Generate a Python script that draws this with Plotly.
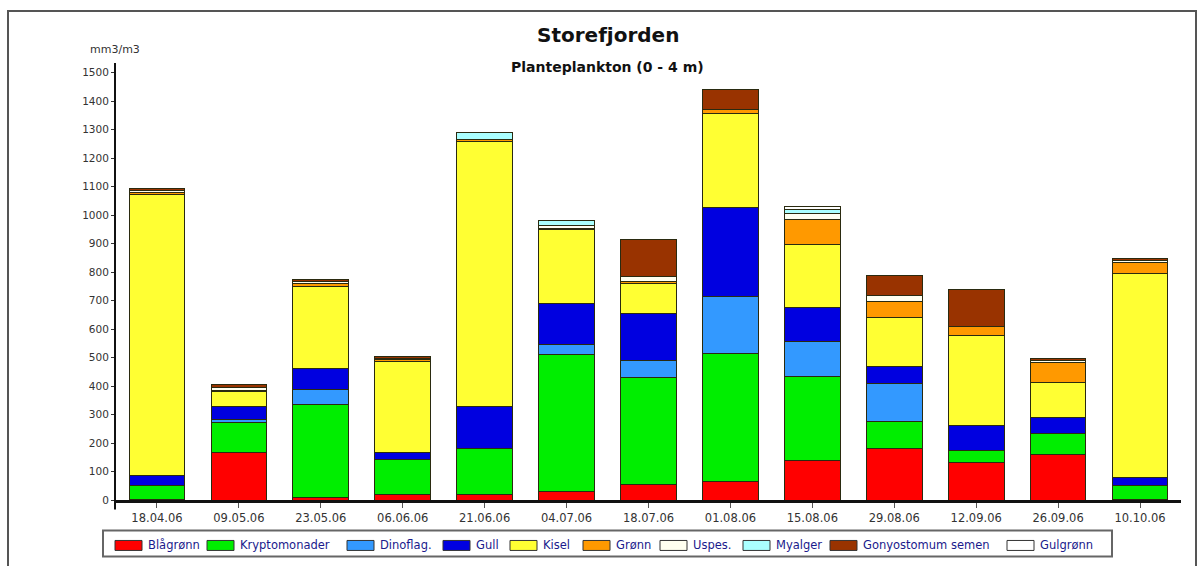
import plotly.graph_objects as go

# Sampling dates (x categories)
dates = ["18.04.06", "09.05.06", "23.05.06", "06.06.06", "21.06.06", "04.07.06",
         "18.07.06", "01.08.06", "15.08.06", "29.08.06", "12.09.06", "26.09.06", "10.10.06"]

# Biovolume per algal group, mm3/m3
blagronn = [2, 168, 8, 19, 19, 31, 54, 64, 138, 179, 133, 159, 3]
kryptomonader = [50, 105, 327, 123, 160, 481, 377, 449, 296, 97, 42, 76, 48]
dinoflag = [0, 8, 52, 0, 0, 33, 58, 201, 123, 132, 0, 0, 0]
gull = [33, 47, 73, 26, 148, 146, 164, 314, 119, 59, 86, 55, 27]
kisel = [988, 52, 290, 319, 931, 257, 106, 329, 220, 175, 316, 121, 718]
gronn = [5, 5, 9, 5, 6, 5, 8, 14, 87, 55, 32, 72, 38]
uspes = [8, 10, 8, 6, 0, 10, 17, 0, 24, 20, 0, 8, 8]
myalger = [0, 0, 0, 0, 25, 17, 0, 0, 12, 0, 0, 0, 0]
gonyostomum = [6, 10, 8, 6, 0, 0, 131, 68, 0, 70, 131, 7, 7]
gulgronn = [0, 0, 0, 0, 0, 0, 0, 0, 12, 0, 0, 0, 0]

y_ticks = list(range(0, 1501, 100))

series = [
    ("Blågrønn", blagronn, "#FF0000"),
    ("Kryptomonader", kryptomonader, "#00EE00"),
    ("Dinoflag.", dinoflag, "#3399FF"),
    ("Gull", gull, "#0000E0"),
    ("Kisel", kisel, "#FFFF33"),
    ("Grønn", gronn, "#FF9900"),
    ("Uspes.", uspes, "#FFFFF0"),
    ("Myalger", myalger, "#AAFFFF"),
    ("Gonyostomum semen", gonyostomum, "#993300"),
    ("Gulgrønn", gulgronn, "#FFFFFF"),
]

FONT = "DejaVu Sans, Arial, sans-serif"
W, H = 1202, 566
ML, MR, MT, MB = 116, 21, 64, 65.5
PW, PH = W - ML - MR, H - MT - MB


def px(x):
    """Pixel column -> paper x."""
    return (x - ML) / PW


def py(y):
    """Pixel row -> paper y."""
    return (H - MB - y) / PH


fig = go.Figure()
for name, vals, color in series:
    fig.add_trace(go.Bar(
        name=name, x=dates, y=vals,
        marker=dict(color=color, line=dict(color="#2a2a10", width=1)),
    ))

fig.update_layout(
    width=W, height=H,
    barmode="stack", bargap=0.32,
    plot_bgcolor="white", paper_bgcolor="white",
    margin=dict(l=ML, r=MR, t=MT, b=MB, autoexpand=False),
    font=dict(family=FONT, size=11, color="#333333"),
    showlegend=False,
    xaxis=dict(
        type="category", showline=True, linecolor="#111111", linewidth=3,
        ticks="outside", ticklen=5, tickwidth=1, tickcolor="#555555",
        showgrid=False, tickfont=dict(family=FONT, size=11.5, color="#333333"),
    ),
    yaxis=dict(
        range=[0, 1530], tickvals=y_ticks, showgrid=False, zeroline=False,
        showline=False, ticks="outside", ticklen=4, tickwidth=1, tickcolor="#333333",
        tickfont=dict(family=FONT, size=10.5, color="#333333"),
    ),
)

# Vertical axis line, drawn slightly past the zero line
fig.add_shape(type="line", xref="paper", yref="paper", x0=px(115), x1=px(115),
              y0=py(510), y1=py(63), line=dict(color="#111111", width=2))

# Outer frame around the chart
fig.add_shape(type="rect", xref="paper", yref="paper", x0=px(8), x1=px(1196),
              y0=py(575), y1=py(11), line=dict(color="#555555", width=2),
              fillcolor="rgba(0,0,0,0)", layer="below")

# Titles and unit label
fig.add_annotation(text="<b>Storefjorden</b>", xref="paper", yref="paper",
                   x=px(608), y=py(35), xanchor="center", yanchor="middle",
                   showarrow=False, font=dict(family=FONT, size=20, color="#111111"))
fig.add_annotation(text="<b>Planteplankton (0 - 4 m)</b>", xref="paper", yref="paper",
                   x=px(607), y=py(67), xanchor="center", yanchor="middle",
                   showarrow=False, font=dict(family=FONT, size=14, color="#111111"))
fig.add_annotation(text="mm3/m3", xref="paper", yref="paper",
                   x=px(115), y=py(49), xanchor="center", yanchor="middle",
                   showarrow=False, font=dict(family=FONT, size=11, color="#333333"))

# Legend box with one swatch + label per series
legend_left = [115, 207, 347, 443, 510, 583, 660, 743, 830, 1007]
fig.add_shape(type="rect", xref="paper", yref="paper", x0=px(103), x1=px(1112),
              y0=py(557), y1=py(531), line=dict(color="#666666", width=2),
              fillcolor="white")
for (name, _, color), lx in zip(series, legend_left):
    fig.add_shape(type="rect", xref="paper", yref="paper",
                  x0=px(lx), x1=px(lx + 27), y0=py(551), y1=py(541),
                  line=dict(color="#333333", width=1), fillcolor=color)
    fig.add_annotation(text=name, xref="paper", yref="paper",
                       x=px(lx + 31), y=py(546), xanchor="left", yanchor="middle",
                       showarrow=False,
                       font=dict(family=FONT, size=11.5, color="#1a1a8c"))

fig.write_html("out.html")
